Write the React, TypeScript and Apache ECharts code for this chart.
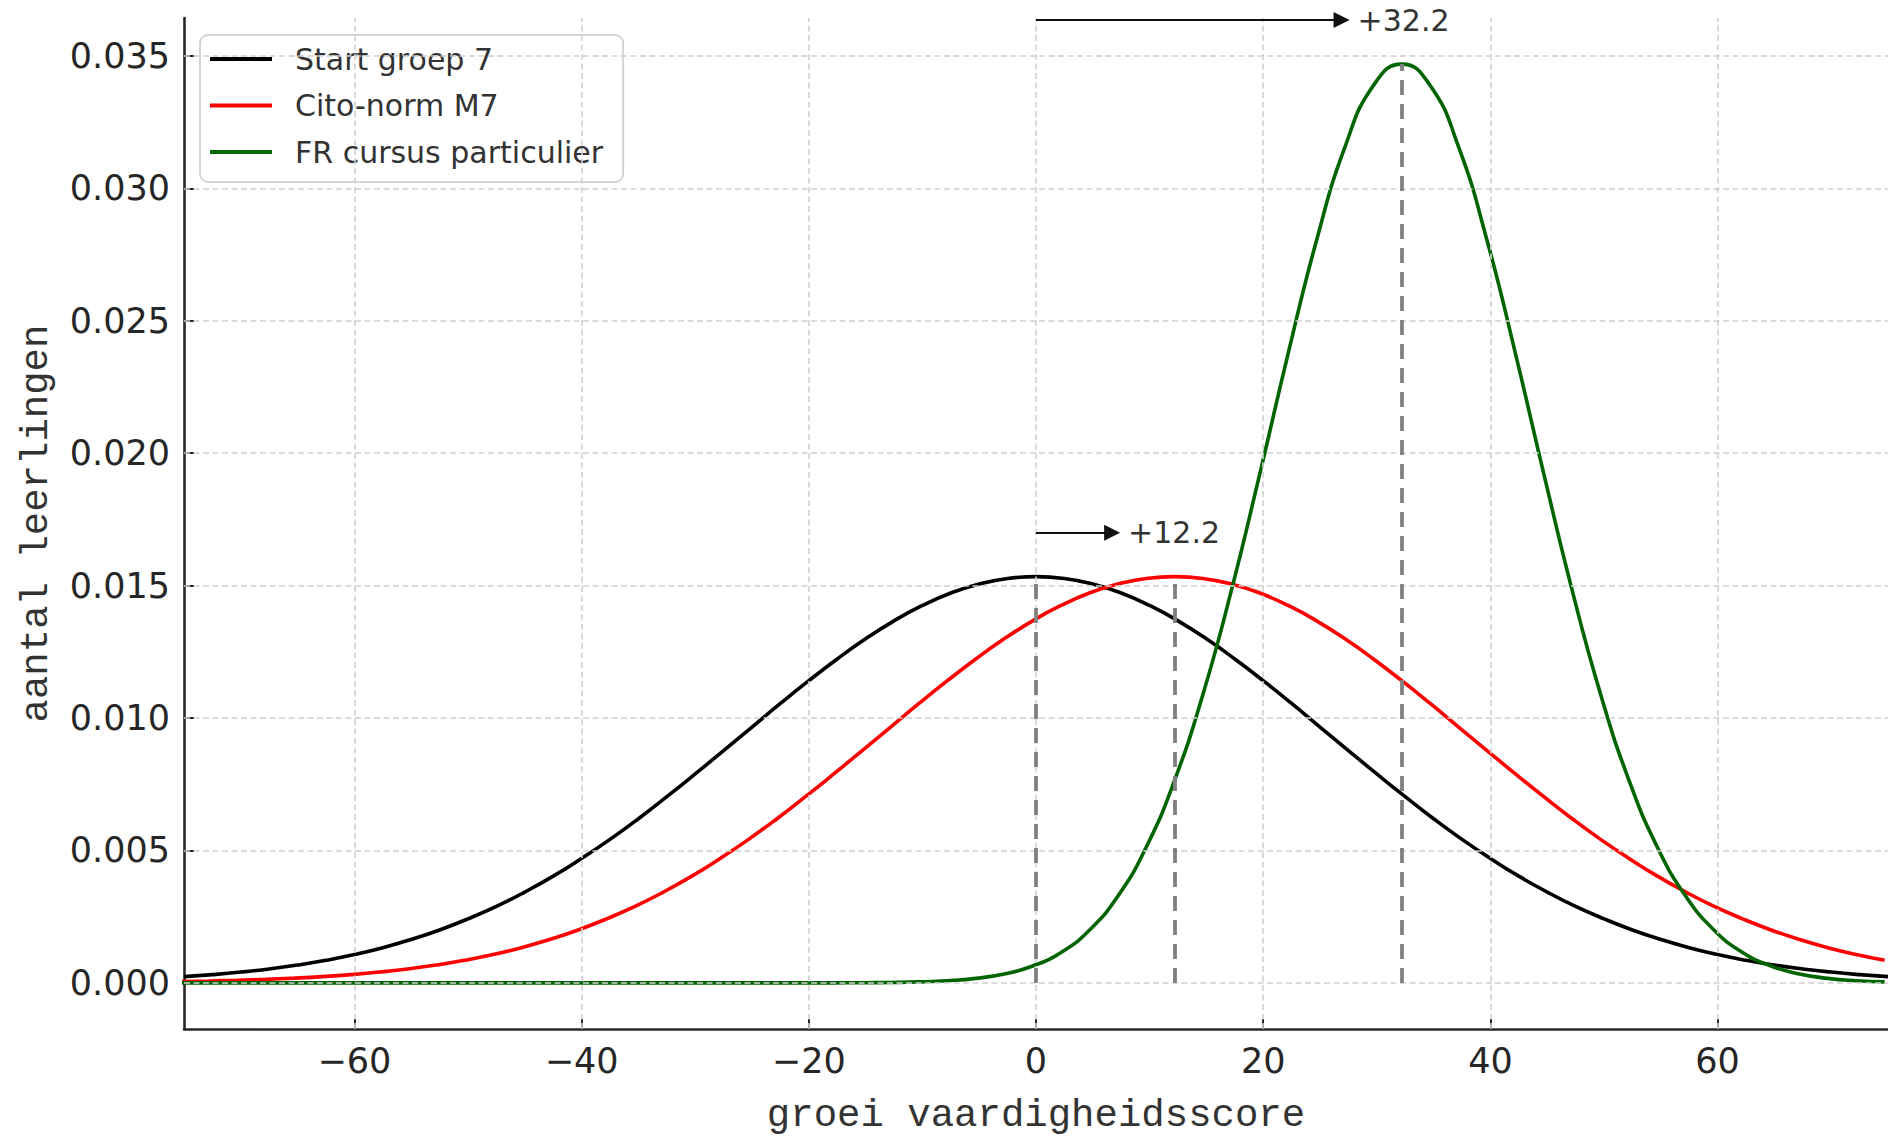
import React, { useEffect, useRef } from "react";
import * as echarts from "echarts";

// ---- Data ----
const seriesNames = ["Start groep 7", "Cito-norm M7", "FR cursus particulier"];
const seriesColors = ["#000000", "#ff0000", "#006400"];

// x positions for "Start groep 7"
const xStart = [
  -75, -72.5, -70, -67.5, -65, -62.5, -60, -57.5, -55, -52.5, -50, -47.5, -45, -42.5, -40, -37.5,
  -35, -32.5, -30, -27.5, -25, -22.5, -20, -17.5, -15, -12.5, -10, -7.5, -5, -2.5, 0, 2.5, 5, 7.5,
  10, 12.5, 15, 17.5, 20, 22.5, 25, 27.5, 30, 32.5, 35, 37.5, 40, 42.5, 45, 47.5, 50, 52.5, 55,
  57.5, 60, 62.5, 65, 67.5, 70, 72.5, 75,
];
const yStart = [
  0.000239, 0.000314, 0.000409, 0.000528, 0.000674, 0.000853, 0.00107, 0.00133, 0.00164, 0.002,
  0.00242, 0.00289, 0.00343, 0.00403, 0.0047, 0.00542, 0.0062, 0.00703, 0.00789, 0.00877, 0.00966,
  0.01055, 0.01141, 0.01223, 0.01299, 0.01367, 0.01425, 0.01472, 0.01506, 0.01527, 0.01534,
  0.01527, 0.01506, 0.01472, 0.01425, 0.01367, 0.01299, 0.01223, 0.01141, 0.01055, 0.00966,
  0.00877, 0.00789, 0.00703, 0.0062, 0.00542, 0.0047, 0.00403, 0.00343, 0.00289, 0.00242, 0.002,
  0.00164, 0.00133, 0.00107, 0.000853, 0.000674, 0.000528, 0.000409, 0.000314, 0.000239,
];

// x positions for "Cito-norm M7" and "FR cursus particulier"
const xShifted = [
  -75.3, -72.8, -70.3, -67.8, -65.3, -62.8, -60.3, -57.8, -55.3, -52.8, -50.3, -47.8, -45.3, -42.8,
  -40.3, -37.8, -35.3, -32.8, -30.3, -27.8, -25.3, -22.8, -20.3, -17.8, -15.3, -12.8, -10.3, -7.8,
  -5.3, -2.8, -0.3, 2.2, 4.7, 7.2, 9.7, 12.2, 14.7, 17.2, 19.7, 22.2, 24.7, 27.2, 29.7, 32.2, 34.7,
  37.2, 39.7, 42.2, 44.7, 47.2, 49.7, 52.2, 54.7, 57.2, 59.7, 62.2, 64.7, 67.2, 69.7, 72.2, 74.7,
];
const yCito = [
  0.0000533, 0.0000733, 0.0000999, 0.000135, 0.000181, 0.000239, 0.000314, 0.000409, 0.000528,
  0.000674, 0.000853, 0.00107, 0.00133, 0.00164, 0.002, 0.00242, 0.00289, 0.00343, 0.00403, 0.0047,
  0.00542, 0.0062, 0.00703, 0.00789, 0.00877, 0.00966, 0.01055, 0.01141, 0.01223, 0.01299, 0.01367,
  0.01425, 0.01472, 0.01506, 0.01527, 0.01534, 0.01527, 0.01506, 0.01472, 0.01425, 0.01367,
  0.01299, 0.01223, 0.01141, 0.01055, 0.00966, 0.00877, 0.00789, 0.00703, 0.0062, 0.00542, 0.0047,
  0.00403, 0.00343, 0.00289, 0.00242, 0.002, 0.00164, 0.00133, 0.00107, 0.000853,
];
const yFR = [
  0, 0, 0, 0, 0, 0, 0, 0, 0, 0, 0, 0, 0, 0, 0, 0, 0, 0, 0, 0, 0, 0,
  0.000001, 0.000003, 0.0000068, 0.0000164, 0.0000375, 0.0000818, 0.00017, 0.000338, 0.000639,
  0.00115, 0.00199, 0.00327, 0.00512, 0.00765, 0.0109, 0.01482, 0.01922, 0.02377, 0.02804, 0.03156,
  0.03388, 0.03469, 0.03388, 0.03156, 0.02804, 0.02377, 0.01922, 0.01482, 0.0109, 0.00765, 0.00512,
  0.00327, 0.00199, 0.00115, 0.000639, 0.000338, 0.00017, 0.0000818, 0.0000375,
];

// means and peak heights (dashed gray markers)
const means = [0, 12.2, 32.2];
const peaks = [0.01534, 0.01534, 0.03469];

// shift annotations
const shiftLabels = ["+12.2", "+32.2"];
const arrowY = [0.017, 0.03635];
const arrowEndX = [6.7, 26.9];

// axes
const X_MIN = -75;
const X_MAX = 75;
const Y_MIN = -0.00174;
const Y_MAX = 0.03643;
const xTicks = [-60, -40, -20, 0, 20, 40, 60];
const yTicks = [0, 0.005, 0.01, 0.015, 0.02, 0.025, 0.03, 0.035];

const xName = "groei vaardigheidsscore";
const yName = "aantal leerlingen";

const AXIS_COLOR = "#262626";
const TEXT_COLOR = "#262626";

export default function App() {
  const ref = useRef<HTMLDivElement | null>(null);

  useEffect(() => {
    if (!ref.current) return;
    const chart = echarts.init(ref.current, null, { renderer: "svg" });

    const curveY = [yStart, yCito, yFR];
    const curveX = [xStart, xShifted, xShifted];

    const curves = seriesNames.map((name, s) => ({
      name,
      type: "line",
      data: curveX[s].map((x, i) => [x, curveY[s][i]]),
      smooth: 0.5,
      showSymbol: false,
      symbol: "none",
      color: seriesColors[s],
      lineStyle: { color: seriesColors[s], width: 3.6 },
      z: 3,
      silent: true,
    }));

    const gridLines = [
      ...xTicks.map((x) => [{ coord: [x, Y_MIN] }, { coord: [x, Y_MAX] }]),
      ...yTicks.map((y) => [{ coord: [X_MIN, y] }, { coord: [X_MAX, y] }]),
    ];

    const option: any = {
      animation: false,
      backgroundColor: "#ffffff",
      textStyle: { fontFamily: "DejaVu Sans" },
      grid: { left: 184, top: 18, width: 1710, height: 1020, containLabel: false },
      legend: {
        orient: "vertical",
        left: 200,
        top: 35,
        data: seriesNames.map((n) => ({ name: n, icon: "rect" })),
        itemWidth: 62,
        itemHeight: 4,
        itemGap: 10.5,
        padding: [6, 20, 12, 10],
        backgroundColor: "rgba(255,255,255,0.8)",
        borderColor: "#d4d4d4",
        borderWidth: 2,
        borderRadius: 8,
        selectedMode: false,
        textStyle: {
          fontFamily: "DejaVu Sans",
          fontSize: 30,
          color: "#333333",
          lineHeight: 36,
          padding: [0, 0, 0, 18],
        },
      },
      xAxis: {
        type: "value",
        min: X_MIN,
        max: X_MAX,
        name: xName,
        nameLocation: "middle",
        nameGap: 67,
        nameTextStyle: { fontFamily: "Liberation Mono", fontSize: 39, color: "#333333" },
        axisLine: { show: true, onZero: false, lineStyle: { color: AXIS_COLOR, width: 2.6 } },
        axisTick: {
          show: true,
          inside: true,
          length: 10,
          customValues: xTicks,
          lineStyle: { color: AXIS_COLOR, width: 2 },
        },
        axisLabel: {
          customValues: xTicks,
          fontSize: 35,
          color: TEXT_COLOR,
          margin: 14,
          fontFamily: "DejaVu Sans",
          formatter: (v: number) => String(v).replace("-", "\u2212"),
        },
        splitLine: { show: false },
      },
      yAxis: {
        type: "value",
        min: Y_MIN,
        max: Y_MAX,
        name: yName,
        nameLocation: "middle",
        nameGap: 128,
        nameTextStyle: { fontFamily: "Liberation Mono", fontSize: 39, color: "#333333" },
        axisLine: { show: true, onZero: false, lineStyle: { color: AXIS_COLOR, width: 2.6 } },
        axisTick: {
          show: true,
          inside: true,
          length: 10,
          customValues: yTicks,
          lineStyle: { color: AXIS_COLOR, width: 2 },
        },
        axisLabel: {
          customValues: yTicks,
          fontSize: 35,
          color: TEXT_COLOR,
          margin: 14,
          fontFamily: "DejaVu Sans",
          formatter: (v: number) => v.toFixed(3),
        },
        splitLine: { show: false },
      },
      series: [
        {
          name: "grid",
          type: "line",
          data: [[X_MIN, Y_MIN]],
          showSymbol: false,
          symbol: "none",
          lineStyle: { opacity: 0 },
          silent: true,
          z: 1,
          markLine: {
            silent: true,
            symbol: ["none", "none"],
            label: { show: false },
            lineStyle: { color: "#d0d0d0", width: 1.6, type: [6, 3.5] },
            emphasis: { disabled: true },
            data: gridLines,
          },
        },
        ...curves,
        {
          name: "means",
          type: "line",
          data: [[X_MIN, Y_MIN]],
          showSymbol: false,
          symbol: "none",
          lineStyle: { opacity: 0 },
          silent: true,
          z: 4,
          markLine: {
            silent: true,
            symbol: ["none", "none"],
            label: { show: false },
            lineStyle: { color: "#808080", width: 3.8, type: [15, 9] },
            emphasis: { disabled: true },
            data: means.map((m, i) => [{ coord: [m, 0] }, { coord: [m, peaks[i]] }]),
          },
        },
        {
          name: "arrows",
          type: "line",
          data: [[X_MIN, Y_MIN]],
          showSymbol: false,
          symbol: "none",
          lineStyle: { opacity: 0 },
          silent: true,
          z: 5,
          markLine: {
            silent: true,
            symbol: ["none", "triangle"],
            symbolSize: 16,
            lineStyle: { color: "#111111", width: 2, type: "solid" },
            itemStyle: { color: "#111111" },
            emphasis: { disabled: true },
            label: {
              show: true,
              position: "end",
              distance: 16,
              fontSize: 30,
              fontFamily: "DejaVu Sans",
              color: "#333333",
              formatter: (p: any) => shiftLabels[p.dataIndex],
            },
            data: arrowY.map((y, i) => [{ coord: [0, y] }, { coord: [arrowEndX[i], y] }]),
          },
        },
      ],
    };

    chart.setOption(option);
    return () => {
      chart.dispose();
    };
  }, []);

  return (
    <div
      ref={ref}
      style={{
        position: "absolute",
        left: 0,
        top: 0,
        width: 1888,
        height: 1140,
        background: "#ffffff",
      }}
    />
  );
}
